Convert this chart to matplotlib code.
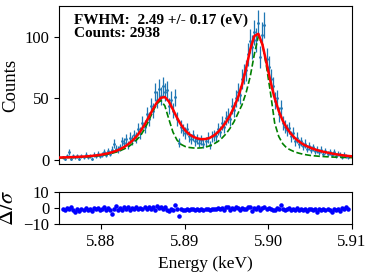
#spectrum fit with residuals
import numpy as np
import matplotlib.pyplot as plt

plt.rcParams['font.family'] = ['Liberation Serif', 'DejaVu Serif']
plt.rcParams['mathtext.fontset'] = 'stix'

# fit curves, sampled on an even grid from 5.875 to 5.910 keV
curve_energy = np.linspace(5.875, 5.910, 73)
fit_total = [1.8, 1.9, 2.0, 2.1, 2.2,
             2.4, 2.6, 2.8, 3.1,
             3.5, 3.9, 4.5, 5.2,
             6.1, 7.2, 8.6, 10.4,
             12.7, 15.5, 19.0, 23.2,
             28.5, 34.5, 40.8, 46.5,
             50.5, 51.2, 47.5, 41.0,
             34.2, 28.4, 24.0, 20.8,
             18.7, 17.4, 16.8, 16.9,
             17.8, 19.6, 22.4, 26.0,
             30.5, 36.0, 42.8, 51.0,
             61.5, 75.0, 90.0, 101.0,
             102.8, 94.0, 79.0, 63.5,
             50.2, 39.8, 31.8, 25.8,
             21.2, 17.6, 14.8, 12.6,
             10.9, 9.5, 8.3, 7.3,
             6.5, 5.8, 5.1, 4.5,
             4.0, 3.5, 3.1, 2.8]
fit_natural = [1.5, 1.6, 1.7, 1.8, 1.9,
               2.0, 2.2, 2.4, 2.7,
               3.0, 3.4, 3.9, 4.5,
               5.3, 6.2, 7.4, 8.8,
               10.5, 13.0, 16.0, 19.5,
               25.0, 31.5, 39.0, 45.5,
               48.4, 44.0, 33.0, 22.5,
               16.0, 12.5, 10.8, 10.0,
               9.6, 9.5, 9.7, 10.3,
               11.3, 12.8, 14.8, 17.5,
               21.0, 25.5, 31.0, 38.0,
               45.0, 55.0, 68.0, 86.0,
               101.0, 94.0, 76.0, 54.0,
               30.0, 19.0, 13.0, 9.5,
               7.8, 6.3, 5.3, 4.5,
               3.9, 3.4, 3.1, 2.8,
               2.6, 2.4, 2.2, 2.1,
               2.0, 1.9, 1.8, 1.7]

# measured histogram
bin_energy = np.linspace(5.87549, 5.90951, 141)
counts = [2, 1, 3, 6, 1, 3, 2, 3, 1, 3,
          2, 4, 2, 3, 1, 4, 3, 5, 3, 4,
          6, 4, 7, 5, 8, 13, 9, 8, 10, 15,
          14, 17, 12, 18, 16, 20, 18, 25, 22, 30,
          27, 37, 33, 44, 40, 55, 49, 58, 52, 60,
          55, 57, 44, 49, 40, 51, 33, 14, 27, 24,
          22, 25, 19, 17, 20, 15, 17, 14, 16, 13,
          15, 18, 12, 19, 20, 19, 25, 23, 30, 27,
          34, 36, 33, 44, 41, 50, 55, 53, 66, 70,
          73, 86, 97, 92, 104, 98, 112, 84, 102, 110,
          82, 76, 66, 60, 48, 50, 37, 42, 30, 27,
          24, 26, 19, 22, 15, 18, 13, 15, 11, 13,
          9, 11, 8, 10, 7, 8, 6, 8, 5, 7,
          5, 6, 4, 6, 3, 5, 4, 2, 4, 3,
          2]
residuals = [-0.3, -0.8, 0.2, -0.5, 1.0, -1.2, -2.3, -0.4, -1.5, -0.2,
             -0.9, 0.1, -1.1, -0.6, -1.9, 0.0, -0.7, 0.4, -0.9, -0.3,
             0.6, -1.0, 0.5, -0.8, -3.3, -0.6, 1.2, -1.1, 0.2, -0.9,
             0.8, -0.5, 1.0, -1.3, 0.3, -0.6, 0.9, -0.7, 0.4, -0.2,
             0.7, -0.3, 1.1, -0.5, 0.6, -0.9, 1.3, 0.2, 0.8, -0.4,
             0.9, -0.8, -1.4, -0.3, -1.0, 1.9, -0.7, -4.8, -0.5, -1.2,
             -0.9, -0.4, -1.1, -0.6, -0.3, -1.2, -0.5, -0.8, -0.4, -1.0,
             -0.6, -0.2, -1.3, -0.5, -0.7, -0.4, 0.5, -0.6, 0.3, -0.8,
             0.6, 0.9, -1.1, 0.4, -0.5, 0.7, 0.2, -0.9, 0.5, -0.4,
             -0.2, 0.6, 1.0, -1.5, 0.3, -0.7, 1.1, -0.9, 0.5, 0.8,
             -0.6, 0.1, -0.4, -0.9, -0.8, 0.2, -0.6, 2.3, -0.5, -0.9,
             -0.7, 0.1, -1.1, -0.3, -0.8, 0.0, -1.3, -0.6, -0.9, -0.5,
             -1.6, -0.7, -0.2, -1.1, -0.6, -2.1, -0.4, -0.9, -0.3, -0.8,
             -0.5, -1.0, -2.4, -0.6, -0.8, -0.2, -1.4, 0.4, -0.7, 0.9,
             -0.3]

fig = plt.figure(figsize=(3.74, 2.72), dpi=100)
ax1 = fig.add_axes([0.158, 0.397, 0.783, 0.581])
ax2 = fig.add_axes([0.158, 0.175, 0.783, 0.118])

# top panel: data + fits
ax1.errorbar(bin_energy, counts, yerr=np.sqrt(counts), fmt='.', ms=2,
             color='#1f77b4', elinewidth=0.9, zorder=1)
ax1.plot(curve_energy, fit_natural, '--', color='green', lw=1.2, zorder=2)
ax1.plot(curve_energy, fit_total, color='red', lw=1.8, zorder=3)
ax1.set_xlim(5.875, 5.91)
ax1.set_ylim(-3.5, 125.5)
ax1.set_yticks([0, 50, 100])
ax1.tick_params(axis='x', bottom=False, labelbottom=False)
ax1.tick_params(labelsize=12)
ax1.set_ylabel('Counts', fontsize=13.5)
ax1.text(0.05, 0.955, 'FWHM:  2.49 +/- 0.17 (eV)\nCounts: 2938',
         transform=ax1.transAxes, va='top', ha='left',
         fontsize=11, fontweight='bold', linespacing=1.0)

# bottom panel: residuals
ax2.plot(bin_energy, residuals, '.', color='blue', ms=4.5)
ax2.set_xlim(5.875, 5.91)
ax2.set_ylim(-10, 10)
ax2.set_yticks([-10, 0, 10])
ax2.set_xticks([5.88, 5.89, 5.90, 5.91])
ax2.set_xticklabels(['5.88', '5.89', '5.90', '5.91'])
ax2.tick_params(labelsize=12)
ax2.set_ylabel(r'$\Delta/\sigma$', fontsize=16)
ax2.set_xlabel('Energy (keV)', fontsize=12.5)

fig.align_ylabels([ax1, ax2])
fig.savefig('out.png', dpi=100)
